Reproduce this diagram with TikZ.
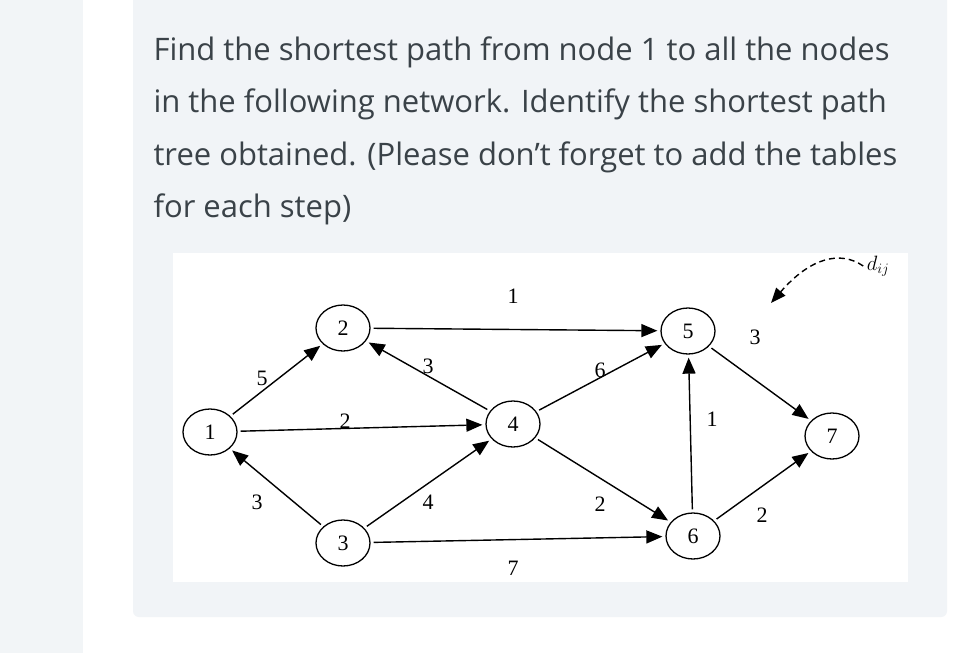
\documentclass[tikz,border=0pt]{standalone}
\usepackage{fontspec}
\setmainfont{Open Sans}
\newfontfamily\tnr{Liberation Serif}
\usetikzlibrary{arrows.meta,shapes.geometric}
\definecolor{cardbg}{HTML}{F1F4F7}
\definecolor{leftbg}{HTML}{F2F5F7}
\definecolor{txt}{HTML}{3A4248}
\begin{document}
\begin{tikzpicture}[x=1pt,y=-1pt,
  nd/.style={draw,ellipse,minimum width=54pt,minimum height=46pt,inner sep=0pt,font=\tnr\fontsize{22}{22}\selectfont,line width=1.3pt},
  ed/.style={-{Triangle[length=16pt,width=13pt]},line width=1.4pt,shorten >=3pt,shorten <=3pt},
  lb/.style={font=\tnr\fontsize{22}{22}\selectfont},
  ln/.style={anchor=west,text=txt,font=\fontsize{31}{31}\selectfont}]
\useasboundingbox (0,0) rectangle (963,653);
\fill[white] (0,0) rectangle (963,653);
\fill[leftbg] (0,0) rectangle (83,653);
\fill[cardbg,rounded corners=6pt] (133,-10) rectangle (947,617);
\node[ln] at (150,52) {Find the shortest path from node 1 to all the nodes};
\node[ln] at (150,104) {in the following network. Identify the shortest path};
\node[ln] at (150,157) {tree obtained. (Please don't forget to add the tables};
\node[ln] at (150,209) {for each step)};
\fill[white] (173,253) rectangle (908,582);
\node[nd] (n1) at (210,432) {1};
\node[nd] (n2) at (343,328) {2};
\node[nd] (n3) at (343,543) {3};
\node[nd] (n4) at (513,424) {4};
\node[nd] (n5) at (688,331) {5};
\node[nd] (n6) at (693,536) {6};
\node[nd] (n7) at (832,436) {7};
\draw[ed] (n2) -- (n5);
\draw[ed] (n1) -- (n2);
\draw[ed] (n4) -- (n2);
\draw[ed] (n1) -- (n4);
\draw[ed] (n3) -- (n1);
\draw[ed] (n3) -- (n4);
\draw[ed] (n3) -- (n6);
\draw[ed] (n4) -- (n5);
\draw[ed] (n4) -- (n6);
\draw[ed] (n6) -- (n5);
\draw[ed] (n5) -- (n7);
\draw[ed] (n6) -- (n7);
\node[lb] at (513,296) {1};
\node[lb] at (262,378) {5};
\node[lb] at (428,366) {3};
\node[lb] at (345,421) {2};
\node[lb] at (257,502) {3};
\node[lb] at (428,502) {4};
\node[lb] at (513,568) {7};
\node[lb] at (600,370) {6};
\node[lb] at (600,504) {2};
\node[lb] at (712,419) {1};
\node[lb] at (755,337) {3};
\node[lb] at (762,515) {2};
\node[font=\fontsize{22}{22}\selectfont] (d) at (878,266) {$d_{ij}$};
\draw[dash pattern=on 6pt off 4pt,line width=1.4pt,-{Triangle[length=15pt,width=12pt]}] (d.west) .. controls (840,250) and (810,258) .. (771,303);
\end{tikzpicture}
\end{document}
